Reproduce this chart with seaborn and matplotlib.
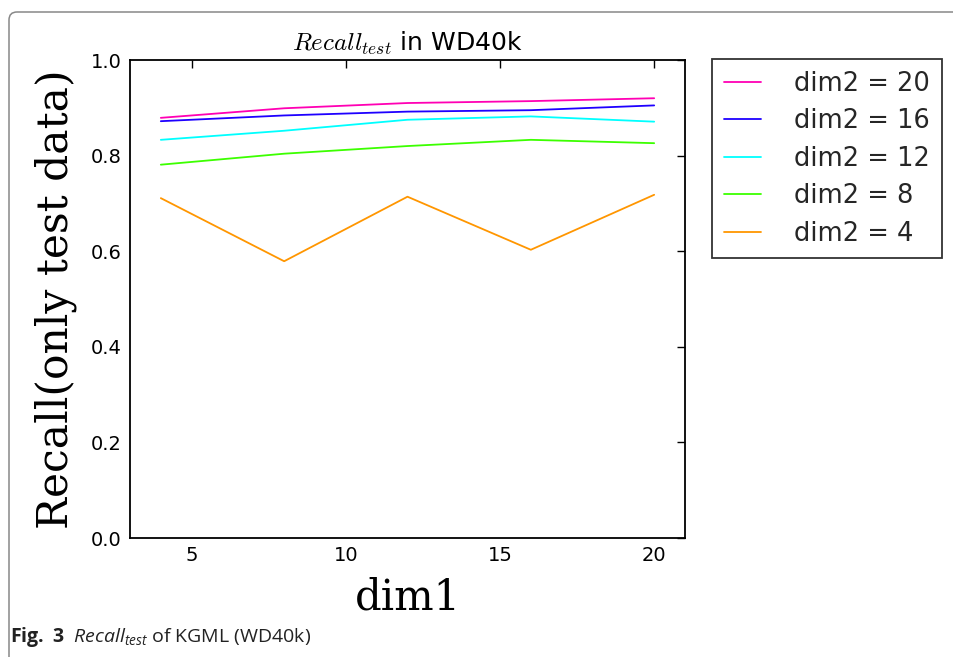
import matplotlib
matplotlib.use('Agg')
import matplotlib.pyplot as plt
import seaborn as sns
import pandas as pd
from matplotlib.patches import FancyBboxPatch

# values
dim1 = [4, 8, 12, 16, 20]
recall_dim2_20 = [0.879, 0.899, 0.910, 0.914, 0.920]
recall_dim2_16 = [0.872, 0.884, 0.892, 0.895, 0.905]
recall_dim2_12 = [0.833, 0.852, 0.875, 0.882, 0.871]
recall_dim2_8 = [0.781, 0.804, 0.820, 0.833, 0.826]
recall_dim2_4 = [0.711, 0.579, 0.714, 0.603, 0.718]

labels = ['dim2 = 20', 'dim2 = 16', 'dim2 = 12', 'dim2 = 8', 'dim2 = 4']
colors = ['#ff00b4', '#1e00ff', '#00ffff', '#3cff00', '#ff9600']
series = [recall_dim2_20, recall_dim2_16, recall_dim2_12, recall_dim2_8, recall_dim2_4]

rows = []
for lab, vals in zip(labels, series):
    for x, v in zip(dim1, vals):
        rows.append({'dim1': x, 'recall': v, 'series': lab})
df = pd.DataFrame(rows)

sns.set_style('white')
plt.rcParams['mathtext.fontset'] = 'custom'
plt.rcParams['mathtext.rm'] = 'Open Sans'
plt.rcParams['mathtext.it'] = 'Open Sans:italic'
plt.rcParams['mathtext.bf'] = 'Open Sans:bold'

fig = plt.figure(figsize=(9.54, 6.57), dpi=100)
ax = fig.add_axes([130 / 954, 1 - 538 / 657, 555 / 954, 478 / 657])

sns.lineplot(data=df, x='dim1', y='recall', hue='series', hue_order=labels,
             palette=colors, linewidth=1.3, ax=ax)

ax.set_xlim(3, 21)
ax.set_ylim(0, 1.0)
ax.set_xticks([5, 10, 15, 20])
ax.set_yticks([0.0, 0.2, 0.4, 0.6, 0.8, 1.0])
ax.set_yticklabels(['0.0', '0.2', '0.4', '0.6', '0.8', '1.0'])
ax.tick_params(direction='in', length=6, width=1, top=True, right=True,
               labelsize=14, colors='black', pad=6)
for s in ax.spines.values():
    s.set_visible(True)
    s.set_color('black')
    s.set_linewidth(1.3)

ax.set_xlabel('dim1', family='DejaVu Serif', fontsize=30, labelpad=8, color='black')
ax.set_ylabel('Recall(only test data)', family='DejaVu Serif', fontsize=30.5, labelpad=10,
              color='black')
ax.set_title(r'$Recall_{test}$ in WD40k', fontsize=18, math_fontfamily='cm', pad=7,
             color='black')

ax.legend(loc='upper left', bbox_to_anchor=(712 / 954, 1 - 59 / 657),
          bbox_transform=fig.transFigure, fontsize=18.5, frameon=True,
          fancybox=False, edgecolor='black', handlelength=1.45,
          handletextpad=1.3, labelspacing=0.45, borderpad=0.45, borderaxespad=0)
ax.get_legend().get_frame().set_linewidth(1.3)

fig.text(10 / 954, 1 - 637 / 657, r'$\mathbf{Fig.\ 3}$  $\mathit{Recall}_{\mathit{test}}$ of KGML (WD40k)',
         family='Open Sans', fontsize=14, color='#222222', va='center', ha='left',
         math_fontfamily='custom')

frame = FancyBboxPatch((9, -60), 1100, 657 - 12 + 60, boxstyle='round,pad=0,rounding_size=8',
                       transform=None, facecolor='none', edgecolor='#888888', linewidth=1.1)
fig.add_artist(frame)

fig.savefig('out.png', dpi=100)
